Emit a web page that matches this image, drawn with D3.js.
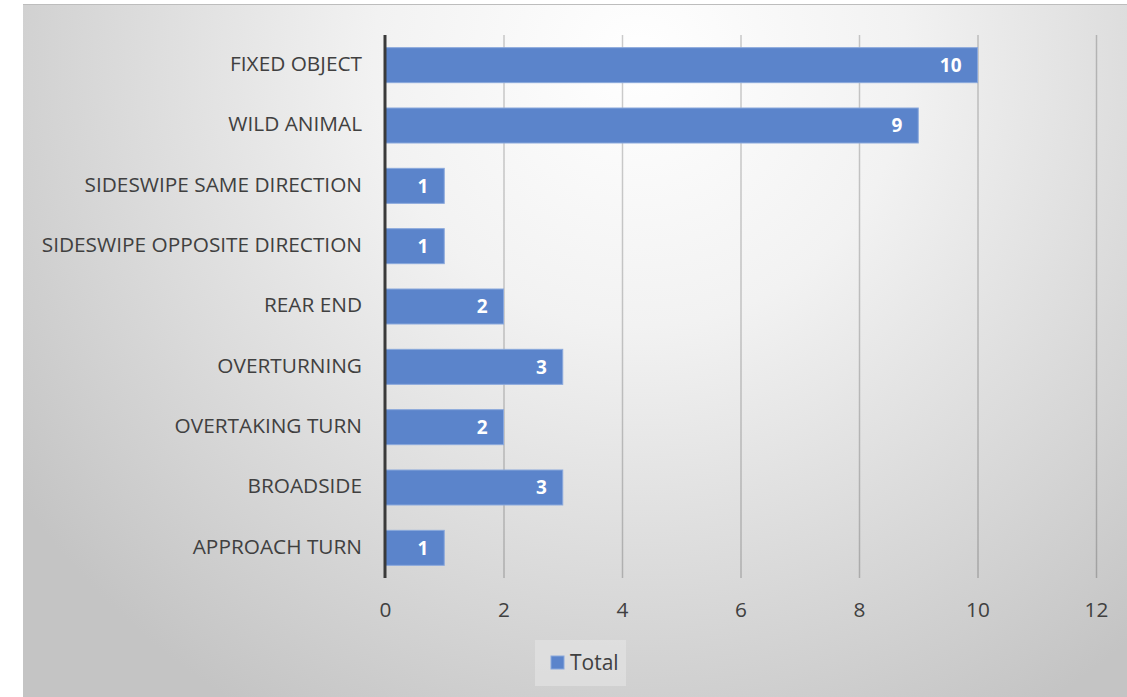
<!DOCTYPE html>
<html>
<head>
<meta charset="utf-8">
<script src="https://cdn.jsdelivr.net/npm/d3@7"></script>
<style>
  html, body { margin: 0; padding: 0; background: #ffffff; }
  svg { display: block; }
  text { font-family: "Open Sans", Lato, sans-serif; }
</style>
</head>
<body>
<svg id="chart" width="1127" height="697"></svg>
<script>
// Collision types and their counts (top to bottom)
const categories = [
  "FIXED OBJECT",
  "WILD ANIMAL",
  "SIDESWIPE SAME DIRECTION",
  "SIDESWIPE OPPOSITE DIRECTION",
  "REAR END",
  "OVERTURNING",
  "OVERTAKING TURN",
  "BROADSIDE",
  "APPROACH TURN"
];
const totals = [10, 9, 1, 1, 2, 3, 2, 3, 1];
const xTicks = [0, 2, 4, 6, 8, 10, 12];
const seriesName = "Total";

const svg = d3.select("#chart");
const W = 1127, H = 697;

// Background panel with soft radial shading
const defs = svg.append("defs");
const grad = defs.append("radialGradient")
  .attr("id", "bg")
  .attr("gradientUnits", "userSpaceOnUse")
  .attr("cx", 640).attr("cy", 60).attr("r", 760);
grad.append("stop").attr("offset", "0").attr("stop-color", "#ffffff");
grad.append("stop").attr("offset", "0.35").attr("stop-color", "#f2f2f2");
grad.append("stop").attr("offset", "1").attr("stop-color", "#c4c4c4");

svg.append("rect")
  .attr("x", 23).attr("y", 4)
  .attr("width", W - 23).attr("height", H - 4)
  .attr("fill", "url(#bg)");
svg.append("line")
  .attr("x1", 23).attr("x2", W).attr("y1", 4.5).attr("y2", 4.5)
  .attr("stroke", "#bdbdbd").attr("stroke-width", 1);

const plot = { left: 385, right: 1096, top: 35, bottom: 578 };

const x = d3.scaleLinear().domain([0, 12]).range([plot.left, plot.right]);
const y = d3.scaleBand().domain(categories).range([plot.top, plot.bottom]).paddingInner(0.42).paddingOuter(0.21);

// Vertical gridlines
svg.append("g")
  .selectAll("line")
  .data(xTicks.filter(t => t > 0))
  .join("line")
  .attr("x1", d => x(d) + 0.5).attr("x2", d => x(d) + 0.5)
  .attr("y1", plot.top).attr("y2", plot.bottom)
  .attr("stroke", "#000000").attr("stroke-opacity", 0.2).attr("stroke-width", 1.5);

// Bars
svg.append("g")
  .selectAll("rect")
  .data(categories)
  .join("rect")
  .attr("x", x(0))
  .attr("y", d => y(d))
  .attr("width", (d, i) => x(totals[i]) - x(0))
  .attr("height", y.bandwidth())
  .attr("fill", "#5b84cb")
  .attr("stroke", "#8aa8dc").attr("stroke-width", 1);

// Value labels inside bar ends
svg.append("g")
  .selectAll("text")
  .data(categories)
  .join("text")
  .attr("x", (d, i) => x(totals[i]) - 16)
  .attr("y", d => y(d) + y.bandwidth() / 2)
  .attr("dy", "0.36em")
  .attr("text-anchor", "end")
  .attr("fill", "#ffffff")
  .attr("font-weight", "bold")
  .attr("font-size", 19)
  .text((d, i) => totals[i]);

// Category axis line
svg.append("line")
  .attr("x1", x(0)).attr("x2", x(0))
  .attr("y1", plot.top).attr("y2", plot.bottom)
  .attr("stroke", "#3a3a3a").attr("stroke-width", 3);

// Category labels
svg.append("g")
  .selectAll("text")
  .data(categories)
  .join("text")
  .attr("x", 362)
  .attr("y", d => y(d) + y.bandwidth() / 2)
  .attr("dy", "0.28em")
  .attr("text-anchor", "end")
  .attr("fill", "#404040")
  .attr("font-size", 20.8)
  .text(d => d);

// Value axis tick labels
const xAxis = d3.axisBottom(x).tickValues(xTicks).tickSize(0).tickPadding(0);
const gx = svg.append("g")
  .attr("transform", `translate(0, ${plot.bottom + 39})`)
  .call(xAxis);
gx.select(".domain").remove();
gx.selectAll("text")
  .attr("font-family", "'Open Sans', Lato, sans-serif")
  .attr("font-size", 20.8)
  .attr("fill", "#404040")
  .attr("dy", "0");

// Legend
const lg = svg.append("g").attr("transform", "translate(535, 640)");
lg.append("rect").attr("width", 91).attr("height", 46).attr("fill", "#e2e2e2").attr("opacity", 0.7);
lg.append("rect").attr("x", 16).attr("y", 16).attr("width", 13).attr("height", 13)
  .attr("fill", "#5b84cb").attr("stroke", "#8aa8dc");
lg.append("text").attr("x", 35).attr("y", 23).attr("dy", "0.33em")
  .attr("font-size", 21).attr("fill", "#404040").text(seriesName);
</script>
</body>
</html>
